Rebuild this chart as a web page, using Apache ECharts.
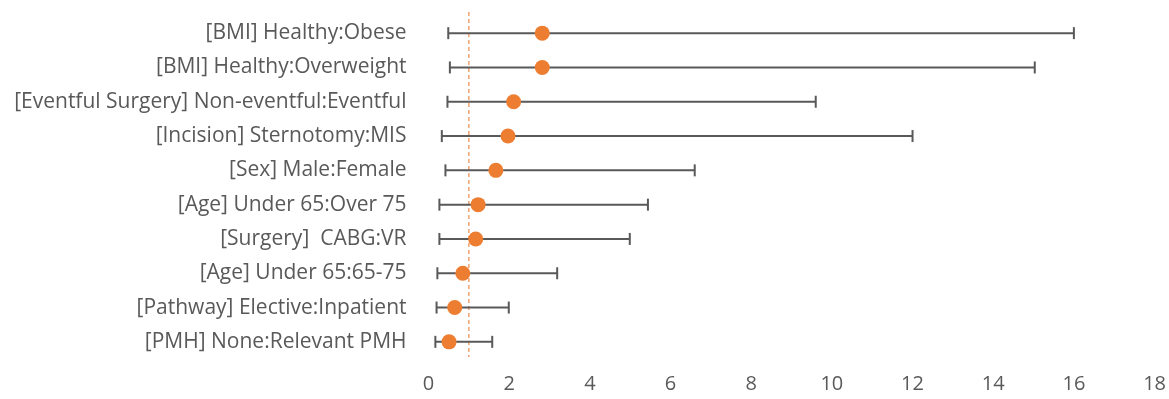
<!DOCTYPE html>
<html><head><meta charset="utf-8">
<script src="https://cdn.jsdelivr.net/npm/echarts@6/dist/echarts.min.js"></script>
<style>html,body{margin:0;padding:0;background:#fff}#c{width:1169px;height:399px}</style>
</head><body><div id="c"></div>
<script>
const categories = [
  "[BMI] Healthy:Obese",
  "[BMI] Healthy:Overweight",
  "[Eventful Surgery] Non-eventful:Eventful",
  "[Incision] Sternotomy:MIS",
  "[Sex] Male:Female",
  "[Age] Under 65:Over 75",
  "[Surgery]  CABG:VR",
  "[Age] Under 65:65-75",
  "[Pathway] Elective:Inpatient",
  "[PMH] None:Relevant PMH"
];
const estimates = [2.82, 2.82, 2.11, 1.97, 1.67, 1.23, 1.17, 0.85, 0.65, 0.51];
const lower = [0.49, 0.53, 0.47, 0.33, 0.42, 0.27, 0.27, 0.22, 0.20, 0.17];
const upper = [16.0, 15.03, 9.6, 12.0, 6.6, 5.44, 4.99, 3.19, 1.99, 1.58];
const xTicks = [0, 2, 4, 6, 8, 10, 12, 14, 16, 18];
const refValue = 1;

const chart = echarts.init(document.getElementById('c'), null, {renderer: 'canvas'});
const font = '"Open Sans", sans-serif';
chart.setOption({
  animation: false,
  grid: {left: 428.5, right: 14, top: 16, bottom: 40, containLabel: false},
  xAxis: {
    type: 'value', min: xTicks[0], max: xTicks[xTicks.length - 1], interval: 2,
    axisLine: {show: false}, axisTick: {show: false}, splitLine: {show: false},
    axisLabel: {color: '#595959', fontSize: 20, fontFamily: font, margin: 15}
  },
  yAxis: {
    type: 'category', data: categories, inverse: true,
    axisLine: {show: false}, axisTick: {show: false}, splitLine: {show: false},
    axisLabel: {color: '#595959', fontSize: 21, fontFamily: font, margin: 22}
  },
  series: [
    {
      type: 'custom',
      data: [[refValue]],
      encode: {x: 0},
      renderItem: function (params, api) {
        const cs = params.coordSys;
        const p = api.coord([api.value(0), 0]);
        return {
          type: 'line',
          shape: {x1: p[0], y1: cs.y - 4, x2: p[0], y2: cs.y + cs.height - 2},
          style: {stroke: '#F4A270', lineWidth: 1.5, lineDash: [4, 3]}
        };
      },
      z: 1
    },
    {
      type: 'custom',
      data: categories.map((c, i) => [i, lower[i], upper[i]]),
      encode: {x: [1, 2], y: 0},
      renderItem: function (params, api) {
        const idx = api.value(0);
        const p1 = api.coord([api.value(1), idx]);
        const p2 = api.coord([api.value(2), idx]);
        const h = 6;
        const st = {stroke: '#595959', lineWidth: 2};
        return {
          type: 'group',
          children: [
            {type: 'line', shape: {x1: p1[0], y1: p1[1], x2: p2[0], y2: p2[1]}, style: st},
            {type: 'line', shape: {x1: p1[0], y1: p1[1] - h, x2: p1[0], y2: p1[1] + h}, style: st},
            {type: 'line', shape: {x1: p2[0], y1: p2[1] - h, x2: p2[0], y2: p2[1] + h}, style: st}
          ]
        };
      },
      z: 2
    },
    {
      type: 'scatter',
      data: estimates.map((v, i) => [v, i]),
      symbol: 'circle', symbolSize: 15,
      itemStyle: {color: '#ED7D31', opacity: 1},
      z: 3
    }
  ]
});
</script></body></html>
